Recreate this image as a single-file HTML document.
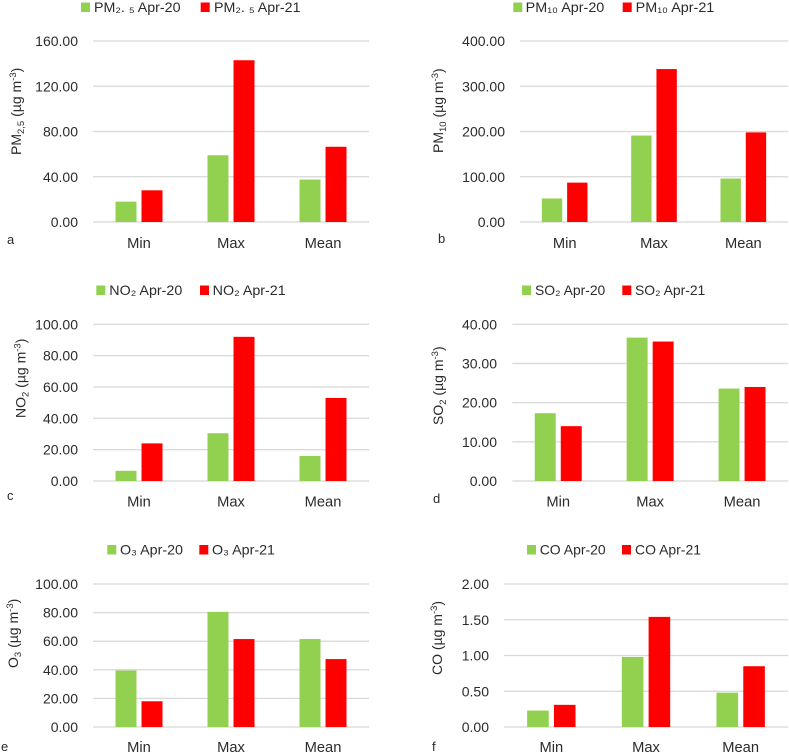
<!DOCTYPE html>
<html lang="en">
<head>
<meta charset="utf-8">
<title>Air quality comparison, April 2020 and April 2021</title>
<style>
html,body{margin:0;padding:0;background:#fff;width:789px;height:754px;overflow:hidden}
svg{display:block}
text{font-family:"Liberation Sans","DejaVu Sans",sans-serif;fill:#2b2b2b}
</style>
</head>
<body>
<svg id="figure" width="789" height="754" viewBox="0 0 789 754" xmlns="http://www.w3.org/2000/svg"></svg>
<script>
const categories = ['Min', 'Max', 'Mean'];

const pm25Apr20 = [18, 59, 37.5];
const pm25Apr21 = [28, 143, 66.5];
const pm25Ticks = ['0.00', '40.00', '80.00', '120.00', '160.00'];
const pm25Legend = ['PM\u2082. \u2085 Apr-20', 'PM\u2082. \u2085 Apr-21'];

const pm10Apr20 = [52, 191, 96];
const pm10Apr21 = [87, 338, 198];
const pm10Ticks = ['0.00', '100.00', '200.00', '300.00', '400.00'];
const pm10Legend = ['PM\u2081\u2080 Apr-20', 'PM\u2081\u2080 Apr-21'];

const no2Apr20 = [6.5, 30.5, 16];
const no2Apr21 = [24, 92, 53];
const no2Ticks = ['0.00', '20.00', '40.00', '60.00', '80.00', '100.00'];
const no2Legend = ['NO\u2082 Apr-20', 'NO\u2082 Apr-21'];

const so2Apr20 = [17.3, 36.6, 23.6];
const so2Apr21 = [14, 35.6, 24];
const so2Ticks = ['0.00', '10.00', '20.00', '30.00', '40.00'];
const so2Legend = ['SO\u2082 Apr-20', 'SO\u2082 Apr-21'];

const o3Apr20 = [39.5, 80.5, 61.5];
const o3Apr21 = [18, 61.5, 47.5];
const o3Ticks = ['0.00', '20.00', '40.00', '60.00', '80.00', '100.00'];
const o3Legend = ['O\u2083 Apr-20', 'O\u2083 Apr-21'];

const coApr20 = [0.23, 0.98, 0.48];
const coApr21 = [0.31, 1.54, 0.85];
const coTicks = ['0.00', '0.50', '1.00', '1.50', '2.00'];
const coLegend = ['CO Apr-20', 'CO Apr-21'];

const GREEN = '#92d050';
const RED = '#ff0000';
const NS = 'http://www.w3.org/2000/svg';
const svg = document.getElementById('figure');

function make(parent, tag) {
  const el = document.createElementNS(NS, tag);
  parent.appendChild(el);
  return el;
}

function addRect(g, x, y, w, h, fill) {
  const r = make(g, 'rect');
  r.setAttribute('x', x);
  r.setAttribute('y', y);
  r.setAttribute('width', w);
  r.setAttribute('height', h);
  r.setAttribute('fill', fill);
  return r;
}

function addText(g, x, y, str, size, anchor) {
  const t = make(g, 'text');
  t.setAttribute('x', x);
  t.setAttribute('y', y);
  t.setAttribute('font-size', size);
  t.setAttribute('text-anchor', anchor || 'start');
  t.textContent = str;
  return t;
}

function addSpan(t, str, size, dy) {
  const s = make(t, 'tspan');
  s.setAttribute('font-size', size);
  s.setAttribute('dy', dy);
  s.textContent = str;
  return s;
}

function drawPanel(p) {
  const g = make(svg, 'g');
  
  

  const maxValue = parseFloat(p.ticks[p.ticks.length - 1]);
  const yScale = function (v) { return p.y0 - (v / maxValue) * (p.y0 - p.top); };
  const catWidth = (p.right - p.left) / categories.length;
  const barWidth = catWidth * 0.228;
  const barGap = catWidth * 0.055;
  const xCenter = function (i) { return p.left + catWidth * (i + 0.5); };

  p.ticks.forEach(function (label) {
    const v = parseFloat(label);
    const line = addRect(g, p.left, yScale(v) - 0.65, p.right - p.left, 1.3, '#d9d9d9');
    
    
    const tick = addText(g, p.tickRight, yScale(v) + 5, label, 14, 'end');
    
    
  });

  categories.forEach(function (cat, i) {
    const h20 = p.y0 - yScale(p.a20[i]);
    const barA = addRect(g, xCenter(i) - barGap / 2 - barWidth, p.y0 - h20, barWidth, h20, GREEN);
    
    
    const h21 = p.y0 - yScale(p.a21[i]);
    const barB = addRect(g, xCenter(i) + barGap / 2, p.y0 - h21, barWidth, h21, RED);
    
    
    const label = addText(g, xCenter(i), p.catY, cat, 14.7, 'middle');
    
    
  });

  [0, 1].forEach(function (k) {
    const swatch = addRect(g, p.legend[k * 2], p.legendY - 9.5, 9, 9.5, k === 0 ? GREEN : RED);
    
    
    const entry = addText(g, p.legend[k * 2 + 1], p.legendY, p.legendText[k], 14);
    entry.setAttribute('textLength', p.legendWidth);
    entry.setAttribute('lengthAdjust', 'spacingAndGlyphs');
    
    
  });

  const title = addText(g, 0, 0, '', 14);
  title.setAttribute('transform', 'translate(' + p.titleX + ',' + p.titleY + ') rotate(-90)');
  
  
  addSpan(title, p.title[0], 14, 0);
  let shift = 0;
  if (p.title[1]) {
    addSpan(title, p.title[1], 9.5, 3);
    shift = 3;
  }
  addSpan(title, ' (\u00b5g m', 14, -shift);
  addSpan(title, '-3', 9.5, -5);
  addSpan(title, ')', 14, 5);

  const letter = addText(g, p.letterX, p.letterY, p.letter, 13);
  
  
}

drawPanel({ letter: 'a', left: 93, right: 369, top: 41, y0: 222, tickRight: 78, catY: 248,
  a20: pm25Apr20, a21: pm25Apr21, ticks: pm25Ticks, legendText: pm25Legend,
  legend: [81, 94, 200.7, 214], legendY: 12, legendWidth: 86.5,
  title: ['PM', '2,5'], titleX: 21, titleY: 155, letterX: 7, letterY: 244 });

drawPanel({ letter: 'b', left: 520, right: 788, top: 41, y0: 222, tickRight: 505, catY: 248,
  a20: pm10Apr20, a21: pm10Apr21, ticks: pm10Ticks, legendText: pm10Legend,
  legend: [513.3, 525.7, 622.7, 635.7], legendY: 12, legendWidth: 78.6,
  title: ['PM', '10'], titleX: 443, titleY: 153, letterX: 438, letterY: 243 });

drawPanel({ letter: 'c', left: 93, right: 369, top: 324.3, y0: 481, tickRight: 78, catY: 506.5,
  a20: no2Apr20, a21: no2Apr21, ticks: no2Ticks, legendText: no2Legend,
  legend: [96.3, 109.3, 200, 212.7], legendY: 295, legendWidth: 73,
  title: ['NO', '2'], titleX: 25.5, titleY: 418, letterX: 7, letterY: 500 });

drawPanel({ letter: 'd', left: 512.3, right: 788, top: 324.3, y0: 481, tickRight: 497, catY: 506.5,
  a20: so2Apr20, a21: so2Apr21, ticks: so2Ticks, legendText: so2Legend,
  legend: [522, 535, 622.3, 635], legendY: 295, legendWidth: 70.3,
  title: ['SO', '2'], titleX: 443, titleY: 425, letterX: 433, letterY: 503 });

drawPanel({ letter: 'e', left: 93, right: 369, top: 584, y0: 727, tickRight: 78, catY: 752,
  a20: o3Apr20, a21: o3Apr21, ticks: o3Ticks, legendText: o3Legend,
  legend: [107.3, 120, 199.3, 212], legendY: 554.5, legendWidth: 63,
  title: ['O', '3'], titleX: 18, titleY: 668, letterX: 1, letterY: 751 });

drawPanel({ letter: 'f', left: 504, right: 788, top: 584, y0: 727, tickRight: 489, catY: 752,
  a20: coApr20, a21: coApr21, ticks: coTicks, legendText: coLegend,
  legend: [527, 539.7, 622, 635], legendY: 554.5, legendWidth: 66,
  title: ['CO', ''], titleX: 442, titleY: 675, letterX: 432, letterY: 751 });
</script>
</body>
</html>
